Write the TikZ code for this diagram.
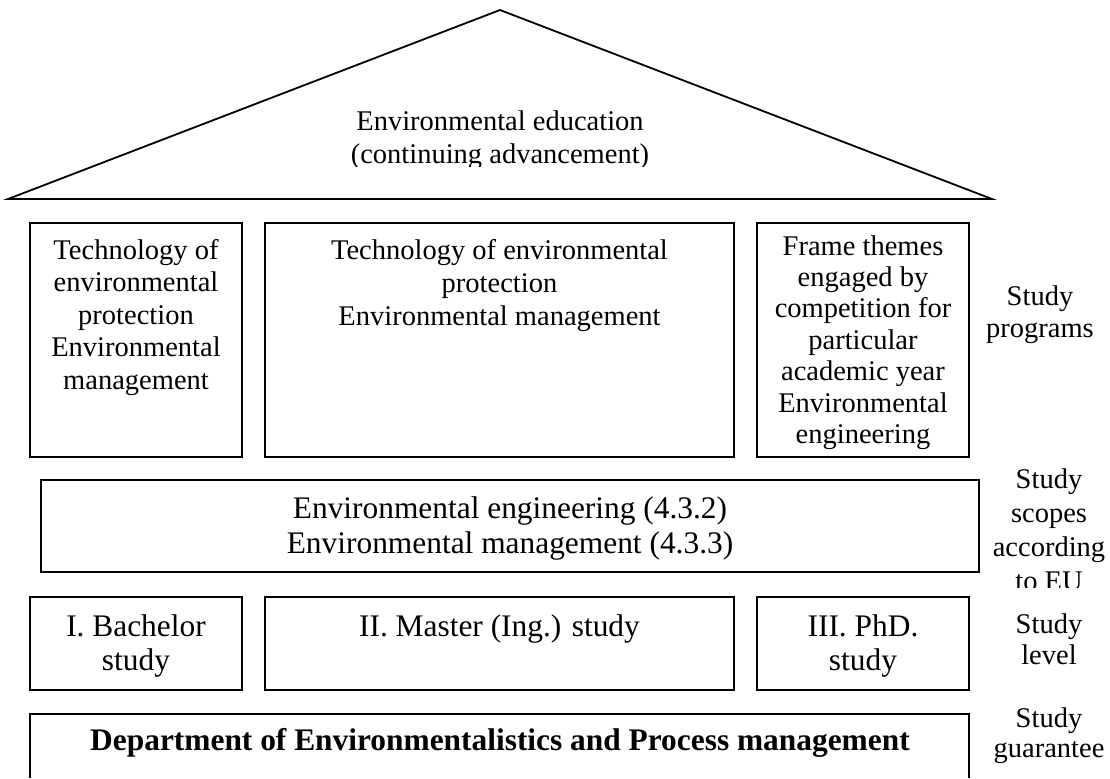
\documentclass[tikz,border=0pt]{standalone}
\usepackage{fontspec}
\setmainfont{Liberation Serif}
\begin{document}
\begin{tikzpicture}[x=0.5pt,y=-0.5pt,
		frame/.style={line width=0.9pt},
		txt/.style={anchor=north,inner sep=0pt,align=center,font=\fontsize{14.25}{#1}\selectfont},
		txt/.default=16.5,
		txtb/.style={txt,font=\fontsize{15.7}{#1}\selectfont},
		txtb/.default=17]
	\useasboundingbox (0,0) rectangle (1110,778);
	\draw[frame] (8,199) -- (500,10) -- (992,199) -- cycle;
	\draw[frame] (30,223) rectangle (242,457) (265,223) rectangle (734,457) (757,223) rectangle (969,457);
	\draw[frame] (41,480) rectangle (979,572);
	\draw[frame] (30,597) rectangle (242,690) (265,597) rectangle (734,690) (757,597) rectangle (969,690);
	\draw[frame] (30,778) |- (969,714) -- (969,778);
	\begin{scope}
		\clip (8,0) rectangle (992,166);
		\node[txt] (edu) at (500,110) {Environmental education\\(continuing advancement)};
	\end{scope}
	\node[txt=16.25] (prog1) at (136,239) {Technology of\\environmental\\protection\\Environmental\\management};
	\node[txt=16.5] (prog2) at (499.5,239) {Technology of environmental\\protection\\Environmental management};
	\node[txt=15.7] (prog3) at (863,235) {Frame themes\\engaged by\\competition for\\particular\\academic year\\Environmental\\engineering};
	\node[txtb=17.5] (scope) at (510,496) {Environmental engineering (4.3.2)\\Environmental management (4.3.3)};
	\node[txtb] (bach) at (136,614) {I. Bachelor\\study};
	\node[txtb] (mast) at (499.5,614) {II. Master (Ing.) study};
	\node[txtb] (phd) at (863,614) {III. PhD.\\study};
	\node[txtb] (dept) at (500,728) {\bfseries Department of Environmentalistics and Process management};
	\node[txt=16] (lprog) at (1040,285) {Study\\programs};
	\begin{scope}
		\clip (990,460) rectangle (1110,587);
		\node[txt=17] (lscope) at (1049,468) {Study\\scopes\\according\\to EU};
	\end{scope}
	\node[txt=15.5] (llevel) at (1049,613) {Study\\level};
	\node[txt=15] (lguar) at (1049,707) {Study\\guarantee};
\end{tikzpicture}
\end{document}
